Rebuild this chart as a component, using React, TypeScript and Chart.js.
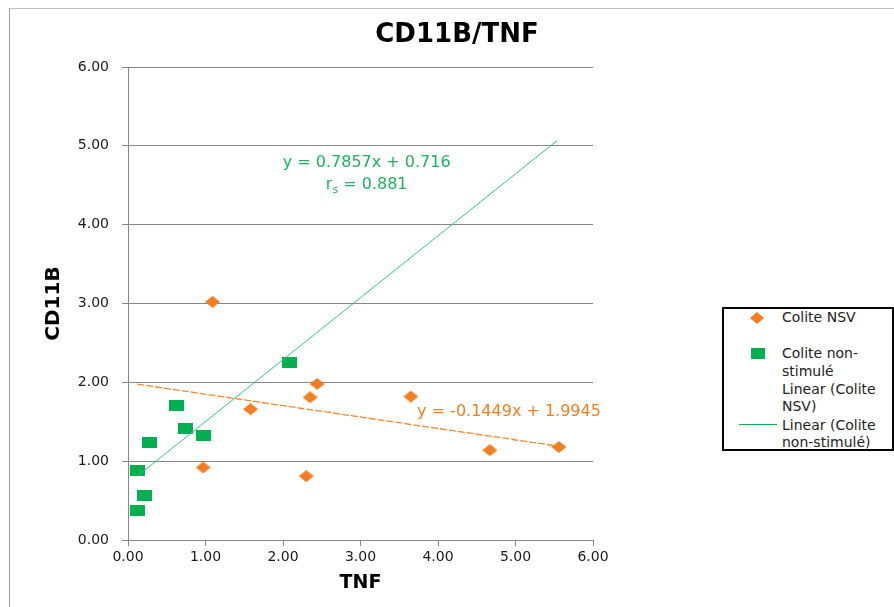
import React, { useEffect, useRef } from "react";
import { Chart, registerables } from "chart.js";

Chart.register(...registerables);

// ---- Data ----
const chartTitle = "CD11B/TNF";
const xAxisTitle = "TNF";
const yAxisTitle = "CD11B";

const nsvLabel = "Colite NSV";
const nsLabel = "Colite non-stimulé";
const nsvTrendLabel = "Linear (Colite NSV)";
const nsTrendLabel = "Linear (Colite non-stimulé)";

const nsvX = [1.09, 1.58, 2.35, 2.44, 3.65, 4.67, 5.56, 0.97, 2.3];
const nsvY = [3.02, 1.66, 1.81, 1.98, 1.82, 1.14, 1.18, 0.92, 0.81];

const nsX = [0.12, 0.21, 0.12, 0.28, 0.62, 0.74, 0.98, 2.08];
const nsY = [0.37, 0.57, 0.88, 1.24, 1.7, 1.42, 1.33, 2.25];

const nsvSlope = -0.1449;
const nsvIntercept = 1.9945;
const nsSlope = 0.7857;
const nsIntercept = 0.716;
const nsvTrendX = [0.12, 5.56];
const nsTrendX = [0.12, 5.54];

const nsvEquation = "y = -0.1449x + 1.9945";
const nsEquation = "y = 0.7857x + 0.716";
const nsRsValue = " = 0.881";

const axisMin = 0;
const axisMax = 6;
const axisStep = 1;

// ---- Styles ----
const ORANGE = "#F47D20";
const ORANGE_LINE = "#F5862E";
const GREEN = "#00B050";
const GREEN_LINE = "#35C477";
const GREEN_TEXT = "#1DB35C";
const GRID = "#878787";
const FONT = '"DejaVu Sans", Verdana, sans-serif';

function makeDiamond(w: number, h: number, color: string) {
  const c = document.createElement("canvas");
  c.width = w;
  c.height = h;
  const ctx = c.getContext("2d")!;
  ctx.fillStyle = color;
  ctx.beginPath();
  ctx.moveTo(0, h / 2);
  ctx.lineTo(w / 2, 0);
  ctx.lineTo(w, h / 2);
  ctx.lineTo(w / 2, h);
  ctx.closePath();
  ctx.fill();
  return c;
}

function makeRect(w: number, h: number, color: string) {
  const c = document.createElement("canvas");
  c.width = w;
  c.height = h;
  const ctx = c.getContext("2d")!;
  ctx.fillStyle = color;
  ctx.fillRect(0, 0, w, h);
  return c;
}

const annotationPlugin = {
  id: "annotations",
  afterDraw(chart: any) {
    const ctx = chart.ctx as CanvasRenderingContext2D;
    const xs = chart.scales.x;
    const ys = chart.scales.y;
    ctx.save();
    // title
    ctx.fillStyle = "#000";
    ctx.font = `bold 26px ${FONT}`;
    ctx.textAlign = "center";
    ctx.textBaseline = "middle";
    ctx.fillText(chartTitle, 457, 35);

    // green equation
    ctx.font = `16px ${FONT}`;
    ctx.fillStyle = GREEN_TEXT;
    ctx.fillText(nsEquation, xs.getPixelForValue(3.08), ys.getPixelForValue(4.78));

    // r_s line
    const cx = xs.getPixelForValue(3.08);
    const cy = ys.getPixelForValue(4.5);
    ctx.font = `16px ${FONT}`;
    const wr = ctx.measureText("r").width;
    const wv = ctx.measureText(nsRsValue).width;
    ctx.font = `11px ${FONT}`;
    const ws = ctx.measureText("s").width;
    const total = wr + ws + wv;
    let px = cx - total / 2;
    ctx.textAlign = "left";
    ctx.font = `16px ${FONT}`;
    ctx.fillText("r", px, cy);
    px += wr;
    ctx.font = `11px ${FONT}`;
    ctx.fillText("s", px, cy + 5);
    px += ws;
    ctx.font = `16px ${FONT}`;
    ctx.fillText(nsRsValue, px, cy);

    // orange equation
    ctx.fillStyle = ORANGE;
    ctx.textAlign = "left";
    ctx.fillText(nsvEquation, xs.getPixelForValue(3.73), ys.getPixelForValue(1.62));
    ctx.restore();
  },
};

export default function App() {
  const ref = useRef<HTMLCanvasElement>(null);

  useEffect(() => {
    if (!ref.current) return;
    const diamond = makeDiamond(15, 12, ORANGE);
    const square = makeRect(15, 11, GREEN);

    const chart = new Chart(ref.current, {
      type: "scatter",
      data: {
        datasets: [
          {
            label: nsTrendLabel,
            type: "line",
            data: nsTrendX.map((x) => ({ x, y: nsSlope * x + nsIntercept })),
            borderColor: GREEN_LINE,
            borderWidth: 1,
            pointRadius: 0,
            fill: false,
          } as any,
          {
            label: nsvTrendLabel,
            type: "line",
            data: nsvTrendX.map((x) => ({ x, y: nsvSlope * x + nsvIntercept })),
            borderColor: ORANGE_LINE,
            borderWidth: 1.3,
            borderDash: [7, 2],
            pointRadius: 0,
            fill: false,
          } as any,
          {
            label: nsLabel,
            data: nsX.map((x, i) => ({ x, y: nsY[i] })),
            pointStyle: square,
            backgroundColor: GREEN,
            borderColor: GREEN,
          },
          {
            label: nsvLabel,
            data: nsvX.map((x, i) => ({ x, y: nsvY[i] })),
            pointStyle: diamond,
            backgroundColor: ORANGE,
            borderColor: ORANGE,
          },
        ],
      },
      options: {
        responsive: false,
        animation: false,
        devicePixelRatio: 1,
        layout: { padding: { left: 0, right: 301, top: 67, bottom: 0 } },
        plugins: {
          legend: { display: false },
          title: { display: false },
          tooltip: { enabled: false },
        },
        scales: {
          x: {
            type: "linear",
            min: axisMin,
            max: axisMax,
            afterFit: (s: any) => {
              s.height = 67;
            },
            ticks: {
              stepSize: axisStep,
              padding: 3,
              color: "#1a1a1a",
              font: { family: FONT, size: 14 },
              callback: (v: any) => Number(v).toFixed(2),
            },
            grid: {
              drawOnChartArea: false,
              drawTicks: true,
              tickLength: 6,
              color: GRID,
            },
            border: { display: true, color: GRID, width: 1 },
            title: {
              display: true,
              text: xAxisTitle,
              color: "#000",
              font: { family: FONT, size: 19, weight: "bold" },
              padding: { top: 0, bottom: 13 },
            },
          },
          y: {
            type: "linear",
            min: axisMin,
            max: axisMax,
            afterFit: (s: any) => {
              s.width = 128;
            },
            ticks: {
              stepSize: axisStep,
              padding: 13,
              color: "#1a1a1a",
              font: { family: FONT, size: 14 },
              callback: (v: any) => Number(v).toFixed(2),
            },
            grid: {
              drawTicks: true,
              tickLength: 6,
              color: GRID,
            },
            border: { display: true, color: GRID, width: 1 },
            title: {
              display: true,
              text: yAxisTitle,
              color: "#000",
              font: { family: FONT, size: 20, weight: "bold" },
              padding: { top: 42, bottom: 0 },
            },
          },
        },
      },
      plugins: [annotationPlugin],
    });
    return () => chart.destroy();
  }, []);

  const lineStyle = (top: number): React.CSSProperties => ({
    position: "absolute",
    left: 58,
    top: top - 9,
    lineHeight: "18px",
    whiteSpace: "nowrap",
  });

  return (
    <div
      style={{
        position: "absolute",
        left: 0,
        top: 0,
        width: 894,
        height: 607,
        background: "#fff",
        overflow: "hidden",
      }}
    >
      <div
        style={{
          position: "absolute",
          left: 9,
          top: 8,
          width: 900,
          height: 610,
          borderTop: "1px solid #bdbdbd",
          borderLeft: "1px solid #9a9a9a",
        }}
      />
      <canvas
        ref={ref}
        width={894}
        height={607}
        style={{ position: "absolute", left: 0, top: 0, width: 894, height: 607 }}
      />
      <div
        style={{
          position: "absolute",
          left: 722,
          top: 307,
          width: 172,
          height: 144,
          boxSizing: "border-box",
          border: "2px solid #000",
          background: "#fff",
          fontFamily: FONT,
          fontSize: 14,
          color: "#222",
        }}
      >
        <svg
          style={{ position: "absolute", left: 26, top: 3 }}
          width="14"
          height="12"
          viewBox="0 0 14 12"
        >
          <polygon points="0,6 7,0 14,6 7,12" fill={ORANGE} />
        </svg>
        <div style={lineStyle(8)}>Colite NSV</div>
        <div
          style={{
            position: "absolute",
            left: 27,
            top: 39,
            width: 14,
            height: 11,
            background: GREEN,
          }}
        />
        <div style={lineStyle(44)}>Colite non-</div>
        <div style={lineStyle(62)}>stimulé</div>
        <div style={lineStyle(80)}>Linear (Colite</div>
        <div style={lineStyle(97)}>NSV)</div>
        <div
          style={{
            position: "absolute",
            left: 15,
            top: 115,
            width: 38,
            height: 0,
            borderTop: `1.5px solid ${GREEN}`,
          }}
        />
        <div style={lineStyle(116)}>Linear (Colite</div>
        <div style={lineStyle(133)}>non-stimulé)</div>
      </div>
    </div>
  );
}
